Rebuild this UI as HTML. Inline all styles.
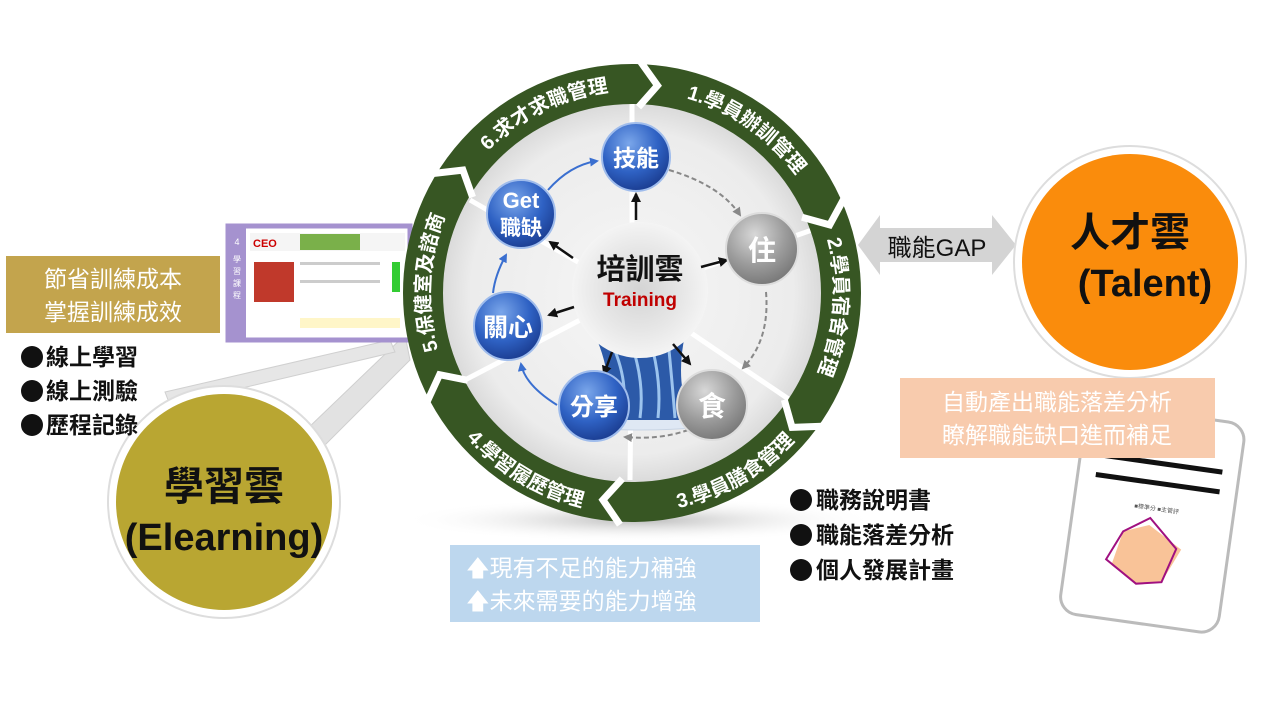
<!DOCTYPE html>
<html><head><meta charset="utf-8"><style>
html,body{margin:0;padding:0;background:#fff;width:1280px;height:720px;overflow:hidden}
svg{display:block}
text{font-family:"Liberation Sans","Noto Sans CJK TC",sans-serif}
</style></head><body>
<svg width="1280" height="720" viewBox="0 0 1280 720" xmlns="http://www.w3.org/2000/svg">
<defs>
<radialGradient id="disc" cx="50%" cy="50%" r="50%"><stop offset="0" stop-color="#f6f6f6"/><stop offset="0.85" stop-color="#ececec"/><stop offset="1" stop-color="#dadada"/></radialGradient>
<radialGradient id="blue" cx="40%" cy="30%" r="70%"><stop offset="0" stop-color="#7aa6ea"/><stop offset="0.6" stop-color="#2f62c4"/><stop offset="1" stop-color="#1c3f94"/></radialGradient>
<radialGradient id="gray" cx="40%" cy="30%" r="70%"><stop offset="0" stop-color="#d8d8d8"/><stop offset="0.6" stop-color="#9c9c9c"/><stop offset="1" stop-color="#7a7a7a"/></radialGradient>
<radialGradient id="cent" cx="50%" cy="50%" r="50%"><stop offset="0" stop-color="#d4d4d4"/><stop offset="0.6" stop-color="#e6e6e6"/><stop offset="1" stop-color="#f4f4f4"/></radialGradient>
<radialGradient id="shadow" cx="50%" cy="50%" r="50%"><stop offset="0" stop-color="#bbb"/><stop offset="1" stop-color="#fff" stop-opacity="0"/></radialGradient>
<marker id="ah" markerUnits="userSpaceOnUse" markerWidth="10" markerHeight="10" refX="8" refY="5" orient="auto"><path d="M0,0 L10,5 L0,10 z" fill="#111"/></marker>
<marker id="ahb" markerUnits="userSpaceOnUse" markerWidth="9" markerHeight="9" refX="7" refY="4.5" orient="auto"><path d="M0,0 L9,4.5 L0,9 z" fill="#3a6fd0"/></marker>
<marker id="ahg" markerUnits="userSpaceOnUse" markerWidth="9" markerHeight="9" refX="7" refY="4.5" orient="auto"><path d="M0,0 L9,4.5 L0,9 z" fill="#888"/></marker>
<path id="p6" d="M464.5,180.1 A202,202 0 0 1 646.1,91.4"/>
<path id="p1" d="M632,91 A202,202 0 0 1 821.8,223.9"/>
<path id="p2" d="M806.9,192 A202,202 0 0 1 791.2,417.4"/>
<path id="p5" d="M457,394 A202,202 0 0 1 468.6,174.2"/>
<path id="p3" d="M632,513 A220,220 0 0 0 822.5,403"/>
<path id="p4" d="M432.6,386 A220,220 0 0 0 643.5,512.7"/>
</defs>

<ellipse cx="640" cy="520" rx="240" ry="22" fill="url(#shadow)"/>

<polygon points="405,335 410,360 300,470 280,455" fill="#e2e2e2" stroke="#cfcfcf"/>
<polygon points="390,340 395,352 170,405 165,392" fill="#e6e6e6" stroke="#d0d0d0"/>

<rect x="228" y="226" width="182" height="114" fill="#fff" stroke="#a592cf" stroke-width="5"/>
<rect x="228" y="226" width="18" height="114" fill="#a592cf"/>
<text x="237" y="245" font-size="9" fill="#fff" text-anchor="middle">4</text>
<text x="237" y="262" font-size="8" fill="#fff" text-anchor="middle">學</text>
<text x="237" y="274" font-size="8" fill="#fff" text-anchor="middle">習</text>
<text x="237" y="286" font-size="8" fill="#fff" text-anchor="middle">課</text>
<text x="237" y="298" font-size="8" fill="#fff" text-anchor="middle">程</text>
<rect x="250" y="233" width="155" height="18" fill="#f5f5f5"/>
<text x="253" y="247" font-size="11" fill="#c00" font-weight="bold">CEO</text>
<rect x="300" y="234" width="60" height="16" fill="#7ab04a"/>
<rect x="254" y="262" width="40" height="40" fill="#c0392b"/>
<rect x="300" y="262" width="80" height="3" fill="#ccc"/>
<rect x="300" y="280" width="80" height="3" fill="#ccc"/>
<rect x="392" y="262" width="8" height="30" fill="#3c3"/>
<rect x="300" y="318" width="100" height="10" fill="#fff6c8"/>

<rect x="6" y="256" width="214" height="77" fill="#c3a44d"/>
<text x="113" y="287" font-size="23" fill="#fff" text-anchor="middle">節省訓練成本</text>
<text x="113" y="320" font-size="23" fill="#fff" text-anchor="middle">掌握訓練成效</text>

<circle cx="224" cy="502" r="116" fill="#fff" stroke="#ddd" stroke-width="2"/>
<circle cx="224" cy="502" r="108" fill="#b9a632"/>
<text x="224" y="500" font-size="40" font-weight="bold" fill="#111" text-anchor="middle">學習雲</text>
<text x="224" y="550" font-size="38" font-weight="bold" fill="#111" text-anchor="middle">(Elearning)</text>

<g fill="#111">
<circle cx="32" cy="357" r="11"/><circle cx="32" cy="391" r="11"/><circle cx="32" cy="425" r="11"/>
</g>
<text x="46" y="365" font-size="23" font-weight="bold" fill="#111">線上學習</text>
<text x="46" y="399" font-size="23" font-weight="bold" fill="#111">線上測驗</text>
<text x="46" y="433" font-size="23" font-weight="bold" fill="#111">歷程記錄</text>

<circle cx="632" cy="293" r="190" fill="url(#disc)"/>
<g stroke="#fff" stroke-width="5">
<line x1="632" y1="293" x2="632" y2="103"/>
<line x1="632" y1="293" x2="812" y2="230"/>
<line x1="632" y1="293" x2="790" y2="400"/>
<line x1="632" y1="293" x2="630" y2="480"/>
<line x1="632" y1="293" x2="465" y2="380"/>
<line x1="632" y1="293" x2="470" y2="200"/>
</g>
<circle cx="632" cy="293" r="209" fill="none" stroke="#375623" stroke-width="40"/>
<g fill="none" stroke="#fff" stroke-width="7" stroke-linejoin="miter">
<polyline points="638.5,107.1 657.5,85.5 640.1,61.1"/>
<polyline points="802,217.3 829.7,224.9 844,198.6"/>
<polyline points="784.3,399.8 792.1,427.4 822,426.2"/>
<polyline points="622.3,478.8 602.9,499.9 619.9,524.7"/>
<polyline points="467.8,380.3 439.6,374.7 427.1,401.8"/>
<polyline points="472.6,197.2 462.9,170.1 433.2,173.5"/>
</g>
<g font-size="20" font-weight="bold" fill="#fff">
<text><textPath href="#p6" startOffset="50%" text-anchor="middle">6.求才求職管理</textPath></text>
<text><textPath href="#p1" startOffset="50%" text-anchor="middle">1.學員辦訓管理</textPath></text>
<text><textPath href="#p2" startOffset="50%" text-anchor="middle">2.學員宿舍管理</textPath></text>
<text><textPath href="#p5" startOffset="50%" text-anchor="middle">5.保健室及諮商</textPath></text>
<text><textPath href="#p3" startOffset="50%" text-anchor="middle">3.學員膳食管理</textPath></text>
<text><textPath href="#p4" startOffset="50%" text-anchor="middle">4.學習履歷管理</textPath></text>
</g>

<ellipse cx="640" cy="422" rx="78" ry="8" fill="#dfe8f4" stroke="#c8d4e4"/>
<path d="M595,335 Q615,380 605,420 L690,420 Q675,380 685,335 Z" fill="#2c5aa8"/>
<path d="M610,340 Q630,380 622,418 M630,340 Q645,380 640,418 M650,340 Q662,380 658,418 M668,340 Q672,380 675,418" stroke="#9cc4ee" stroke-width="3" fill="none"/>
<circle cx="640" cy="290" r="68" fill="url(#cent)"/>
<text x="640" y="279" font-size="29" font-weight="bold" fill="#111" text-anchor="middle">培訓雲</text>
<text x="640" y="306" font-size="19" font-weight="bold" fill="#c00000" text-anchor="middle">Training</text>

<g stroke="#111" stroke-width="2.5" marker-end="url(#ah)">
<line x1="636" y1="220" x2="636" y2="194"/>
<line x1="701" y1="267" x2="727" y2="260"/>
<line x1="573" y1="258" x2="550" y2="242"/>
<line x1="574" y1="307" x2="549" y2="315"/>
<line x1="612" y1="352" x2="604" y2="374"/>
<line x1="673" y1="344" x2="690" y2="364"/>
</g>
<g fill="none" stroke-width="2">
<path d="M669,170 Q720,185 740,215" stroke="#888" stroke-dasharray="5,3" marker-end="url(#ahg)"/>
<path d="M766,292 Q770,340 743,368" stroke="#888" stroke-dasharray="5,3" marker-end="url(#ahg)"/>
<path d="M688,430 Q660,440 625,437" stroke="#888" stroke-dasharray="5,3" marker-end="url(#ahg)"/>
<path d="M557,405 Q525,385 521,364" stroke="#3a6fd0" marker-end="url(#ahb)"/>
<path d="M493,293 Q495,275 506,255" stroke="#3a6fd0" marker-end="url(#ahb)"/>
<path d="M548,190 Q570,165 597,161" stroke="#3a6fd0" marker-end="url(#ahb)"/>
</g>

<circle cx="636" cy="157" r="34" fill="url(#blue)" stroke="#9fbcec" stroke-width="2"/>
<text x="636" y="166" font-size="23" font-weight="bold" fill="#fff" text-anchor="middle">技能</text>
<circle cx="521" cy="214" r="34" fill="url(#blue)" stroke="#9fbcec" stroke-width="2"/>
<text x="521" y="208" font-size="22" font-weight="bold" fill="#fff" text-anchor="middle">Get</text>
<text x="521" y="235" font-size="21" font-weight="bold" fill="#fff" text-anchor="middle">職缺</text>
<circle cx="508" cy="326" r="34" fill="url(#blue)" stroke="#9fbcec" stroke-width="2"/>
<text x="508" y="336" font-size="25" font-weight="bold" fill="#fff" text-anchor="middle">關心</text>
<circle cx="594" cy="406" r="35" fill="url(#blue)" stroke="#9fbcec" stroke-width="2"/>
<text x="594" y="415" font-size="24" font-weight="bold" fill="#fff" text-anchor="middle">分享</text>
<circle cx="762" cy="249" r="36" fill="url(#gray)" stroke="#ddd" stroke-width="2"/>
<text x="762" y="260" font-size="28" font-weight="bold" fill="#fff" text-anchor="middle">住</text>
<circle cx="712" cy="405" r="35" fill="url(#gray)" stroke="#ddd" stroke-width="2"/>
<text x="712" y="416" font-size="28" font-weight="bold" fill="#fff" text-anchor="middle">食</text>

<polygon points="858,245 880,215 880,228 992,228 992,215 1016,245 992,275 992,262 880,262 880,275" fill="#d4d4d4"/>
<text x="937" y="256" font-size="24" fill="#111" text-anchor="middle">職能GAP</text>

<circle cx="1130" cy="262" r="116" fill="#fff" stroke="#ddd" stroke-width="2"/>
<circle cx="1130" cy="262" r="108" fill="#fa8c0c"/>
<text x="1130" y="246" font-size="40" font-weight="bold" fill="#111" text-anchor="middle">人才雲</text>
<text x="1145" y="296" font-size="38" font-weight="bold" fill="#111" text-anchor="middle">(Talent)</text>

<g transform="rotate(8 1150 520)">
<rect x="1072" y="412" width="160" height="212" rx="18" fill="#fff" stroke="#bbb" stroke-width="3"/>
<rect x="1090" y="460" width="125" height="5" fill="#111"/>
<rect x="1090" y="480" width="125" height="5" fill="#111"/>
<text x="1155" y="510" font-size="6" fill="#555" text-anchor="middle">■標準分 ■主管評</text>
<polygon points="1150,525 1185,545 1170,580 1145,585 1118,570 1125,535" fill="#f8b986" opacity="0.85"/>
<polygon points="1150,518 1180,545 1170,580 1145,585 1112,565 1125,535" fill="none" stroke="#a01080" stroke-width="2"/>
</g>

<rect x="900" y="378" width="315" height="80" fill="#f8cbad"/>
<text x="1057" y="410" font-size="23" fill="#fff" text-anchor="middle">自動產出職能落差分析</text>
<text x="1057" y="443" font-size="23" fill="#fff" text-anchor="middle">瞭解職能缺口進而補足</text>

<g fill="#111">
<circle cx="801" cy="500" r="11"/><circle cx="801" cy="535" r="11"/><circle cx="801" cy="570" r="11"/>
</g>
<text x="816" y="508" font-size="23" font-weight="bold" fill="#111">職務說明書</text>
<text x="816" y="543" font-size="23" font-weight="bold" fill="#111">職能落差分析</text>
<text x="816" y="578" font-size="23" font-weight="bold" fill="#111">個人發展計畫</text>

<rect x="450" y="545" width="310" height="77" fill="#bdd7ee"/>
<text x="466" y="576" font-size="23" fill="#fff">🡅現有不足的能力補強</text>
<text x="466" y="609" font-size="23" fill="#fff">🡅未來需要的能力增強</text>
</svg>
</body></html>
